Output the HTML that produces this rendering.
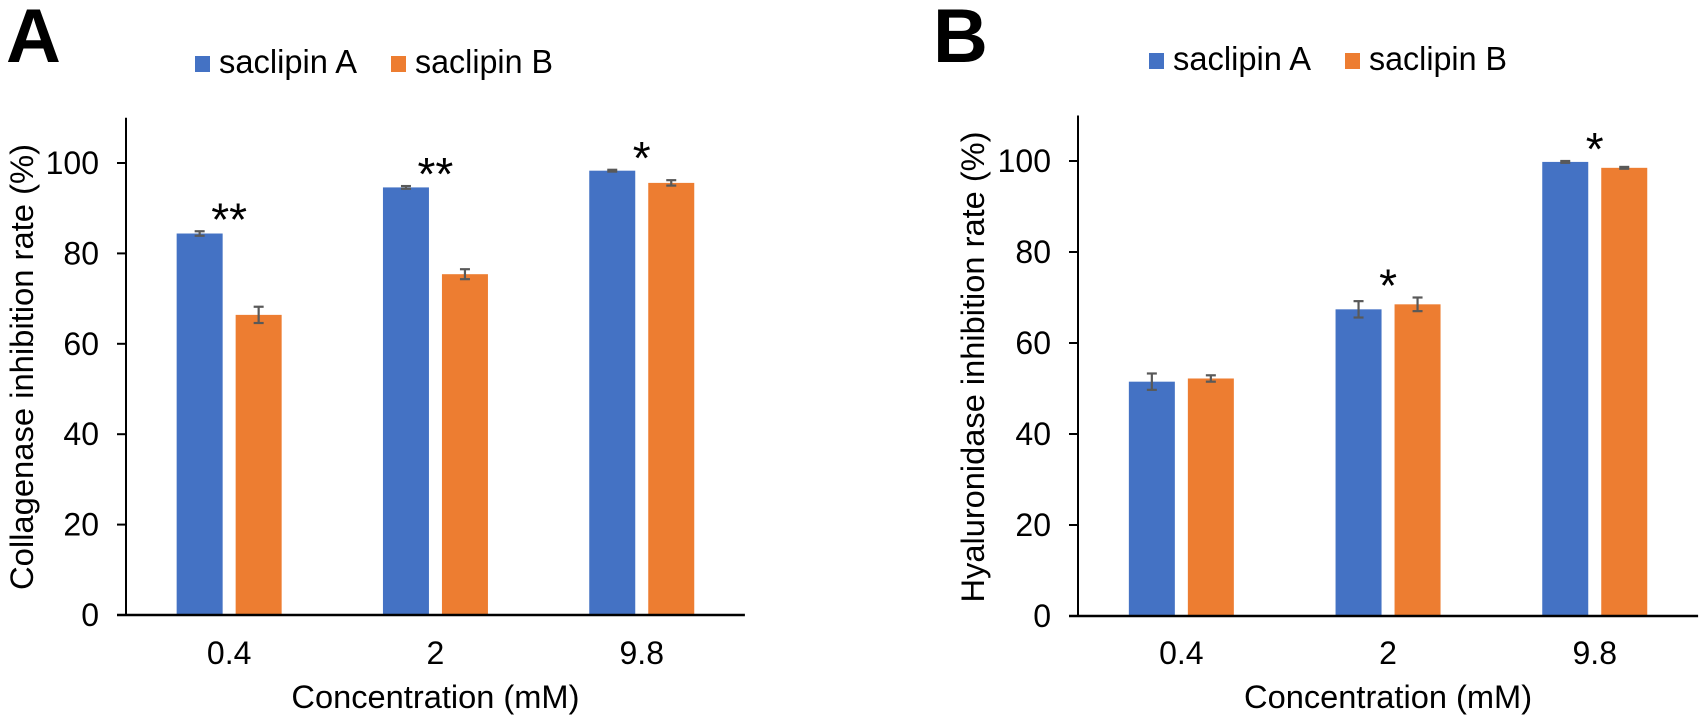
<!DOCTYPE html>
<html><head><meta charset="utf-8"><style>
html,body{margin:0;padding:0;background:#fff;}
svg{display:block;font-family:"Liberation Sans",Arial,sans-serif;}
</style></head><body>
<svg id="chart" width="1701" height="720" viewBox="0 0 1701 720"></svg>
<script>
const categories = ["0.4", "2", "9.8"];
const seriesNames = ["saclipin A", "saclipin B"];
const colors = ["#4472C4", "#ED7D31"];
const collagenA = [84.4, 94.6, 98.3];
const collagenB = [66.4, 75.4, 95.6];
const collagenErrA = [0.5, 0.3, 0.2];
const collagenErrB = [1.8, 1.1, 0.6];
const collagenStars = ["**", "**", "*"];
const hyaluA = [51.5, 67.4, 99.8];
const hyaluB = [52.2, 68.5, 98.5];
const hyaluErrA = [1.8, 1.8, 0.2];
const hyaluErrB = [0.7, 1.5, 0.2];
const hyaluStars = ["", "*", "*"];
const yTicks = [0, 20, 40, 60, 80, 100];

const NS = "http://www.w3.org/2000/svg";
const svg = document.getElementById("chart");
function mk(tag, attrs, parent) {
  const e = document.createElementNS(NS, tag);
  for (const k in attrs) e.setAttribute(k, attrs[k]);
  (parent || svg).appendChild(e);
  return e;
}

function panel(cfg) {
  const g = mk("g", {});
  
  
  const x0 = cfg.x0, y0 = cfg.y0, y100 = cfg.y100, catW = cfg.catW;
  const yScale = v => y0 - (y0 - y100) * v / 100;
  const xCenter = i => x0 + catW * (i + 0.5);

  const L = mk("text", {x: cfg.letterX, y: 62, "font-size": 76, "font-weight": "bold", fill: "#000"}, g);
  L.textContent = cfg.letter;
  
  

  for (let s = 0; s < 2; s++) {
    const lx = cfg.legX + s * 196;
    const sq = mk("rect", {x: lx, y: cfg.legY - 17, width: 15, height: 16, fill: colors[s]}, g);
    
    
    const t = mk("text", {x: lx + 24, y: cfg.legY, "font-size": 33, fill: "#000", textLength: 138, lengthAdjust: "spacingAndGlyphs"}, g);
    t.textContent = seriesNames[s];
    
    
  }

  const vals = [cfg.a, cfg.b], errs = [cfg.ea, cfg.eb];
  categories.forEach((c, i) => {
    const cx = xCenter(i);
    for (let s = 0; s < 2; s++) {
      const bx = s === 0 ? cx - 52.5 : cx + 6.5;
      const top = yScale(vals[s][i]);
      const r = mk("rect", {x: bx, y: top, width: 46, height: y0 - top, fill: colors[s]}, g);
      
      
      const ex = bx + 23;
      const et = yScale(vals[s][i] + errs[s][i]), eb = yScale(vals[s][i] - errs[s][i]);
      const eg = mk("g", {stroke: "#595959", "stroke-width": 2.2}, g);
      
      
      mk("line", {x1: ex, x2: ex, y1: et, y2: eb}, eg);
      mk("line", {x1: ex - 5, x2: ex + 5, y1: et, y2: et}, eg);
      mk("line", {x1: ex - 5, x2: ex + 5, y1: eb, y2: eb}, eg);
    }
    if (cfg.stars[i]) {
      const top = Math.max(vals[0][i] + errs[0][i], vals[1][i] + errs[1][i]);
      const st = mk("text", {x: cx, y: yScale(top) + 4, "font-size": 46, "text-anchor": "middle", fill: "#000"}, g);
      st.textContent = cfg.stars[i];
      
      
    }
    const xl = mk("text", {x: cx, y: 664, "font-size": 32, "text-anchor": "middle", fill: "#000"}, g);
    xl.textContent = c;
    
    
  });

  const ya = mk("line", {x1: x0, x2: x0, y1: yScale(110), y2: y0, stroke: "#000", "stroke-width": 2}, g);
  
  
  const xa = mk("line", {x1: x0 - 9, x2: x0 + catW * 3, y1: y0, y2: y0, stroke: "#000", "stroke-width": 2.5}, g);
  
  
  yTicks.forEach(v => {
    const y = yScale(v);
    mk("line", {x1: x0 - 9, x2: x0, y1: y, y2: y, stroke: "#000", "stroke-width": 2}, g);
    const t = mk("text", {x: x0 - 27, y: y + 11, "font-size": 32, "text-anchor": "end", fill: "#000"}, g);
    t.textContent = v;
    
    
  });

  const xt = mk("text", {x: x0 + catW * 1.5, y: 708, "font-size": 32, "text-anchor": "middle", fill: "#000", textLength: 288, lengthAdjust: "spacingAndGlyphs"}, g);
  xt.textContent = "Concentration (mM)";
  
  
  const yt = mk("text", {x: 0, y: 0, "font-size": 32, "text-anchor": "middle", fill: "#000", textLength: cfg.ytLen, lengthAdjust: "spacingAndGlyphs",
    transform: "translate(" + cfg.ytX + "," + cfg.ytY + ") rotate(-90)"}, g);
  yt.textContent = cfg.ytitle;
  
  
}

panel({name: "panel-a-collagenase", letter: "A", letterX: 6, x0: 126, y0: 615, y100: 163, catW: 206.3,
  legX: 195, legY: 73, a: collagenA, b: collagenB, ea: collagenErrA, eb: collagenErrB, stars: collagenStars,
  ytitle: "Collagenase inhibition rate (%)", ytX: 33, ytY: 367, ytLen: 446});
panel({name: "panel-b-hyaluronidase", letter: "B", letterX: 933, x0: 1078, y0: 616, y100: 161, catW: 206.7,
  legX: 1149, legY: 70, a: hyaluA, b: hyaluB, ea: hyaluErrA, eb: hyaluErrB, stars: hyaluStars,
  ytitle: "Hyaluronidase inhibition rate (%)", ytX: 984, ytY: 367, ytLen: 471});
</script>
</body></html>
